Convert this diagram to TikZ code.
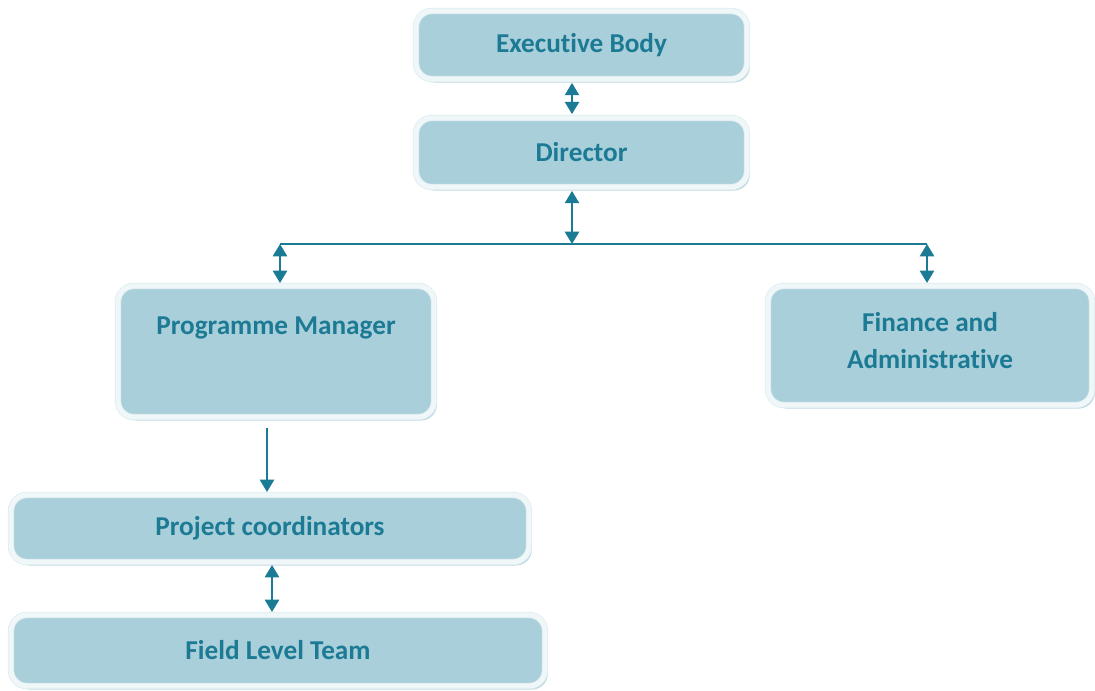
\documentclass[tikz,border=0pt]{standalone}
\usepackage{fontspec}
\setmainfont{Carlito}[Ligatures=NoCommon]
\usepackage{tikz}
\usetikzlibrary{arrows.meta,shadows}
\definecolor{boxfill}{RGB}{169,207,218}
\definecolor{boxtext}{RGB}{28,122,148}
\definecolor{linkcol}{RGB}{27,123,149}
\definecolor{ringcol}{RGB}{220,235,240}
\definecolor{ringfill}{RGB}{240,247,249}
\definecolor{shadecol}{RGB}{190,218,226}
\begin{document}
\begin{tikzpicture}[x=0.02cm,y=-0.02cm,
  orgbox/.style={rounded corners=9pt, fill=boxfill, draw=ringcol, double=ringfill,
    double distance=2.8pt, line width=0.4pt, text=boxtext, align=center,
    font=\fontsize{15.5}{20.4}\selectfont\bfseries, inner sep=0pt,
    drop shadow={shadow xshift=1.6pt, shadow yshift=-2pt, opacity=1, fill=shadecol}},
  link/.style={draw=linkcol, line width=1.3pt, -{Triangle[length=7pt,width=8pt]}},
  bilink/.style={link, {Triangle[length=7pt,width=8pt]}-{Triangle[length=7pt,width=8pt]}}]
\useasboundingbox (0,0) rectangle (1095,690);
\node[orgbox, minimum width=331*0.02cm, minimum height=68*0.02cm] (exec) at (581.5,45) {Executive Body};
\node[orgbox, minimum width=331*0.02cm, minimum height=69*0.02cm] (dir) at (581.5,152.5) {Director};
\node[orgbox, minimum width=316*0.02cm, minimum height=131*0.02cm, text height=11pt, text depth=29.8pt] (pm) at (276,351.5) {Programme Manager};
\node[orgbox, minimum width=324*0.02cm, minimum height=119*0.02cm, text depth=5.6pt] (fin) at (930,345.5) {Finance and\\[0.8pt]Administrative};
\node[orgbox, minimum width=518*0.02cm, minimum height=67*0.02cm] (pc) at (270,528.5) {Project coordinators};
\node[orgbox, minimum width=534*0.02cm, minimum height=71*0.02cm] (flt) at (278,650.5) {Field Level Team};
\coordinate (busmid) at (572,244);
\coordinate (busl) at (280,244);
\coordinate (busr) at (927,244);
\draw[bilink, shorten <=2pt, shorten >=2pt] (exec.south -| busmid) -- (dir.north -| busmid);
\draw[bilink, shorten <=2pt] (dir.south -| busmid) -- (busmid);
\draw[draw=linkcol, line width=1pt] (busl) -- (busr);
\draw[bilink, shorten >=1.5pt] (busl) -- (busl |- pm.north);
\draw[bilink, shorten >=1.5pt] (busr) -- (busr |- fin.north);
\draw[link, shorten <=6pt, shorten >=1.5pt] (pm.south -| 267,0) -- (pc.north -| 267,0);
\draw[bilink, shorten <=1.5pt, shorten >=1.5pt] (pc.south -| 272,0) -- (flt.north -| 272,0);
\end{tikzpicture}
\end{document}
